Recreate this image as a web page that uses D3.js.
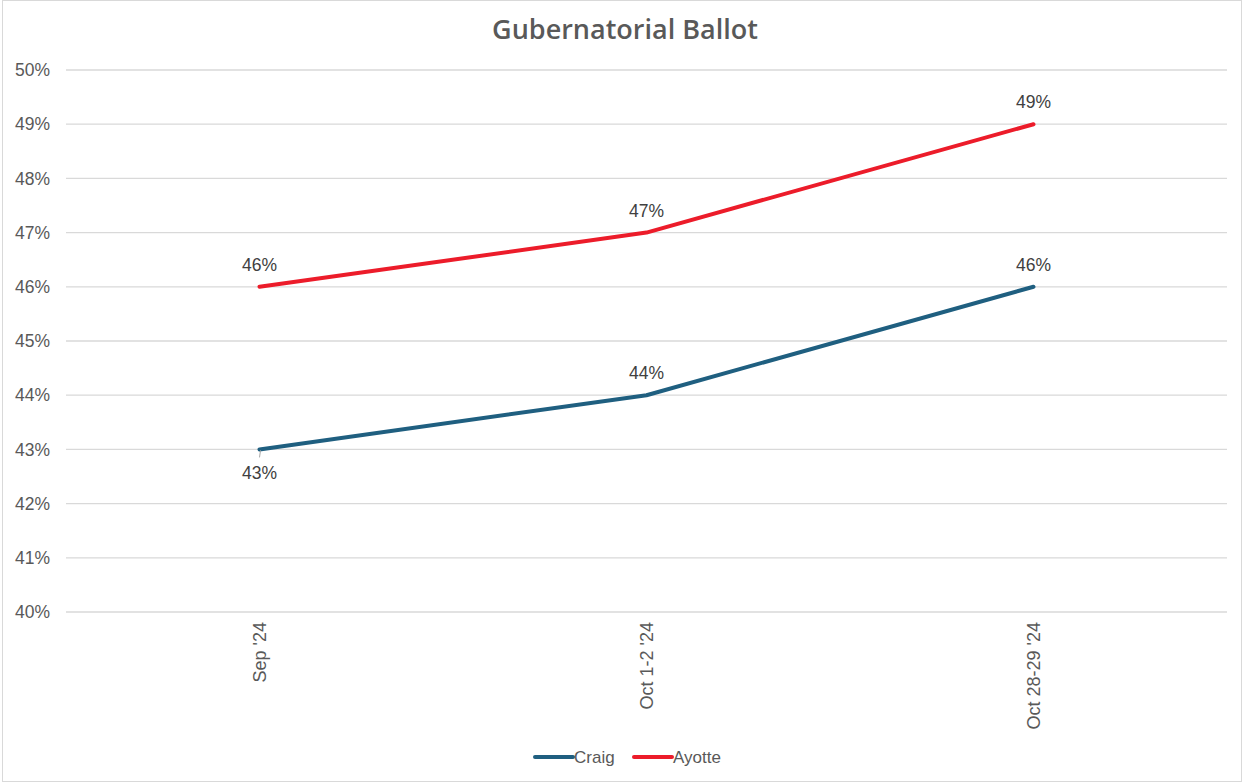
<!DOCTYPE html>
<meta charset="utf-8">
<script src="https://d3js.org/d3.v7.min.js"></script>
<style>
body { margin: 0; background: #fff; }
text { font-family: "Liberation Sans", Arial, sans-serif; fill: #595959; }
</style>
<body></body>
<script>

// data
var dates = ["Sep '24", "Oct 1-2 '24", "Oct 28-29 '24"];
var craig = [43, 44, 46];
var ayotte = [46, 47, 49];
var yTicks = [40, 41, 42, 43, 44, 45, 46, 47, 48, 49, 50];

var series = [
  {name: "Craig", values: craig, color: "#1f5f80"},
  {name: "Ayotte", values: ayotte, color: "#ec1c2a"}
];

var W = 1247, H = 784;
var margin = {top: 70, right: 20, bottom: 172, left: 66};
var width = 1227 - margin.left,
    height = 612 - margin.top;

var root = d3.select("body").append("svg")
    .attr("width", W)
    .attr("height", H);

root.append("rect")
  .attr("x", 2.5).attr("y", 0.5)
  .attr("width", 1239).attr("height", 781)
  .attr("fill", "none")
  .attr("stroke", "#d9d9d9");

root.append("text")
  .attr("x", 625).attr("y", 39)
  .attr("text-anchor", "middle")
  .style("font-family", "'Open Sans', sans-serif")
  .style("font-size", "27px")
  .style("font-weight", "600")
  .text("Gubernatorial Ballot");

var svg = root.append("g")
    .attr("transform", `translate(${margin.left},${margin.top})`);

var xScale = d3.scaleBand()
  .domain(dates)
  .range([0, width]);

var yScale = d3.scaleLinear()
  .domain([40, 50])
  .range([height, 0]);

// gridlines
svg.selectAll(".grid")
  .data(yTicks)
  .enter().append("line")
  .attr("x1", 0).attr("x2", width)
  .attr("y1", d => yScale(d)).attr("y2", d => yScale(d))
  .attr("stroke", "#d9d9d9")
  .attr("stroke-width", 1.3);

var yAxis = d3.axisLeft(yScale)
  .tickValues(yTicks)
  .tickSize(0)
  .tickPadding(16)
  .tickFormat(d => d + "%");

svg.append("g").call(yAxis)
  .call(g => g.select(".domain").remove())
  .selectAll("text")
  .style("font-size", "17.5px")
  .style("fill", "#595959");

var xAxis = d3.axisBottom(xScale).tickSize(0);

svg.append("g")
  .attr("transform", `translate(0,${height})`)
  .call(xAxis)
  .call(g => g.select(".domain").remove())
  .selectAll("text")
  .attr("transform", "rotate(-90)")
  .attr("x", -10).attr("y", 0).attr("dy", "0.35em")
  .style("text-anchor", "end")
  .style("font-size", "18px")
  .style("fill", "#595959");

var cx = d => xScale(d) + xScale.bandwidth() / 2;

var line = d3.line()
  .x((v, i) => cx(dates[i]))
  .y(v => yScale(v));

svg.selectAll(".series")
  .data(series)
  .enter().append("path")
  .attr("d", d => line(d.values))
  .attr("fill", "none")
  .attr("stroke", d => d.color)
  .attr("stroke-width", 4)
  .attr("stroke-linecap", "round")
  .attr("stroke-linejoin", "round");

// data labels
series.forEach(function(s) {
  s.values.forEach(function(v, i) {
    var below = (s.name === "Craig" && i === 0);
    svg.append("text")
      .attr("x", cx(dates[i]))
      .attr("y", yScale(v) + (below ? 30 : -16))
      .attr("text-anchor", "middle")
      .style("font-size", "17.5px")
      .style("fill", "#404040")
      .text(v + "%");
    if (below) {
      svg.append("line")
        .attr("x1", cx(dates[i]) + 1).attr("y1", yScale(v) + 1)
        .attr("x2", cx(dates[i])).attr("y2", yScale(v) + 8)
        .attr("stroke", "#a6a6a6");
    }
  });
});

// legend
var legend = root.append("g").attr("transform", "translate(533,757)");
var lx = [0, 99];
series.forEach(function(s, i) {
  var g = legend.append("g").attr("transform", `translate(${lx[i]},0)`);
  g.append("line")
    .attr("x1", 2).attr("x2", 40)
    .attr("stroke", s.color)
    .attr("stroke-width", 4)
    .attr("stroke-linecap", "round");
  g.append("text")
    .attr("x", 41).attr("dy", "0.35em")
    .style("font-size", "17px")
    .text(s.name);
});

</script>
